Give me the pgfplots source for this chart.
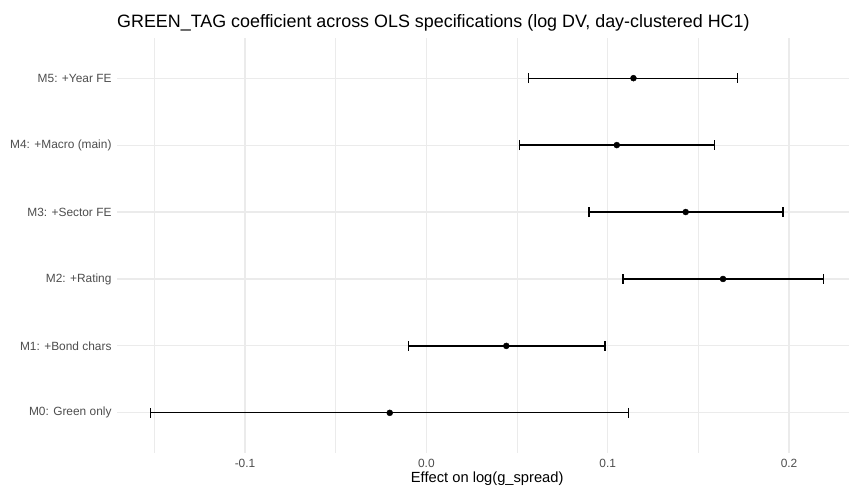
\documentclass[border=0pt]{standalone}
\usepackage{fontspec}
\setmainfont{Liberation Sans}
\usepackage{pgfplots}
\pgfplotsset{compat=1.18}
\definecolor{gridgray}{RGB}{235,235,235}
\definecolor{ticktxt}{RGB}{77,77,77}
\begin{document}
\begin{tikzpicture}
\begin{axis}[
  scale only axis,
  width=740.4bp, height=415bp,
  xmin=-0.1706, xmax=0.2377,
  ymin=0.4, ymax=6.6,
  axis line style={draw=none},
  major tick length=0pt, minor tick length=0pt,
  xtick={-0.1,0,0.1,0.2},
  xticklabels={-0.1,0.0,0.1,0.2},
  minor xtick={-0.15,-0.05,0.05,0.15},
  ytick={1,2,3,4,5,6},
  yticklabels={M0: Green only,M1: +Bond chars,M2: +Rating,M3: +Sector FE,M4: +Macro (main),M5: +Year FE},
  xmajorgrids, ymajorgrids, xminorgrids,
  major grid style={gridgray,line width=1.1bp},
  minor grid style={gridgray,line width=0.6bp},
  tick label style={font=\fontsize{11.9bp}{13bp}\selectfont,text=ticktxt},
  xticklabel style={yshift=-3bp},
  yticklabel style={xshift=-2bp},
  xlabel={Effect on log(g\_spread)},
  xlabel style={font=\fontsize{14.7bp}{16bp}\selectfont,at={(rel axis cs:0.5,0)},anchor=base,yshift=-29.5bp},
  clip=false,
]
\addplot+[only marks, black, mark=*, mark size=3bp,
  mark options={fill=black,draw=black},
  error bars/.cd, x dir=both, x explicit,
  error mark=|,
  error mark options={black,mark size=5bp,line width=1.3bp},
  error bar style={black,line width=1.3bp}]
coordinates {
  (-0.0202,1) += (0.1316,0) -= (0.1318,0)
  (0.0441,2)  += (0.0544,0) -= (0.0539,0)
  (0.1636,3)  += (0.0555,0) -= (0.0551,0)
  (0.1430,4)  += (0.0537,0) -= (0.0533,0)
  (0.1050,5)  += (0.0538,0) -= (0.0537,0)
  (0.1142,6)  += (0.0573,0) -= (0.0578,0)
};
\coordinate (pl) at (rel axis cs:0,0);
\coordinate (pt) at (rel axis cs:0,1);
\end{axis}
\node[anchor=base west,font=\fontsize{17.9bp}{19bp}\selectfont,inner sep=0pt] at ([yshift=10bp]pt) {GREEN\_TAG coefficient across OLS specifications (log DV, day-clustered HC1)};
\pgfresetboundingbox
\path[use as bounding box] ([shift={(-117bp,-33bp)}]pl) rectangle ([shift={(732bp,38bp)}]pt);
\end{tikzpicture}
\end{document}
